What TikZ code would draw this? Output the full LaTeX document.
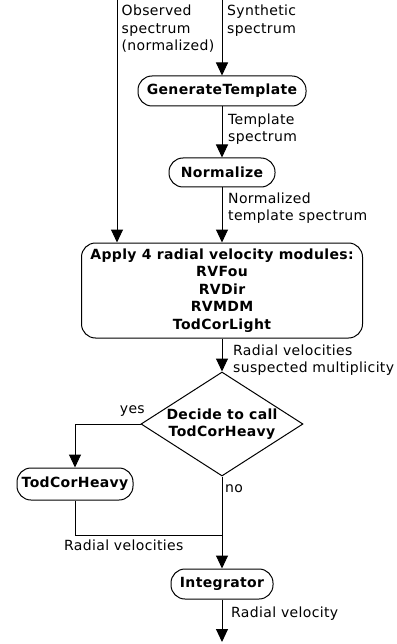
\documentclass[tikz,border=0pt]{standalone}
\usepackage{fontspec}
\setmainfont{DejaVu Sans}[LetterSpace=2.5]
\usetikzlibrary{shapes.geometric,arrows.meta}
\newcommand\flowfont{\fontsize{14}{17.5}\selectfont}

\begin{document}
\begin{tikzpicture}[x=1pt, y=-1pt,
	every node/.style={font=\flowfont},
	box/.style={draw, line width=1pt, rounded corners=14pt, font=\flowfont\bfseries, align=center, inner sep=0pt},
	decide/.style={draw, line width=1pt, diamond, aspect=1.56, font=\flowfont\bfseries, align=center, inner sep=0pt, minimum width=162pt, minimum height=104pt},
	lbl/.style={anchor=north west, align=left, inner sep=0pt},
	flow/.style={line width=1pt, -{Triangle[width=12pt,length=13pt]}}]
	\useasboundingbox (0,0) rectangle (396,644);
	
	\node[box, minimum width=168pt, minimum height=30pt] (gen) at (222,91) {GenerateTemplate};
	\node[box, minimum width=106pt, minimum height=29pt] (norm) at (222,172.5) {Normalize};
	\node[box, minimum width=281pt, minimum height=95pt] (apply) at (222,290.5) {Apply 4 radial velocity modules:\\RVFou\\RVDir\\RVMDM\\TodCorLight};
	\node[decide] (dec) at (222,424) {Decide to call\\TodCorHeavy};
	\node[box, minimum width=116pt, minimum height=32pt] (heavy) at (75,484) {TodCorHeavy};
	\node[box, minimum width=102pt, minimum height=30pt] (integ) at (222,584) {Integrator};
	
	\coordinate (obs) at (117,0);%Eingang links
	\coordinate (syn) at (222,0);%Eingang rechts
	\coordinate (merge) at (222,535);
	\coordinate (out) at (222,642);
	
	\draw[flow] (syn) -- (gen);
	\draw[flow] (gen) -- (norm);
	\draw[flow] (norm) -- (apply);
	\draw[flow] (obs) -- (obs |- apply.north);
	\draw[flow] (apply) -- (dec);
	\draw[flow] (dec.west) -| (heavy);%yes Zweig
	\draw[line width=1pt] (heavy) |- (merge);
	\draw[flow] (dec) -- (integ);%no Zweig
	\draw[flow] (integ) -- (out);
	
	%Beschriftungen
	\node[lbl] (obslbl) at (121.5,4.7) {Observed\\spectrum\\(normalized)};
	\node[lbl] (synlbl) at (227,4.7) {Synthetic\\spectrum};
	\node[lbl] (tpllbl) at (228,113.4) {Template\\spectrum};
	\node[lbl] (nrmlbl) at (228,192.4) {Normalized\\template spectrum};
	\node[lbl] (mltlbl) at (233,344.4) {Radial velocities\\suspected multiplicity};
	\node[anchor=base east, inner sep=0pt] (yes) at (145,413) {yes};
	\node[anchor=base west, inner sep=0pt] (no) at (225,492) {no};
	\node[anchor=base west, inner sep=0pt] (rvslbl) at (64,550) {Radial velocities};
	\node[anchor=base west, inner sep=0pt] (rvlbl) at (231,617) {Radial velocity};
\end{tikzpicture}
\end{document}
